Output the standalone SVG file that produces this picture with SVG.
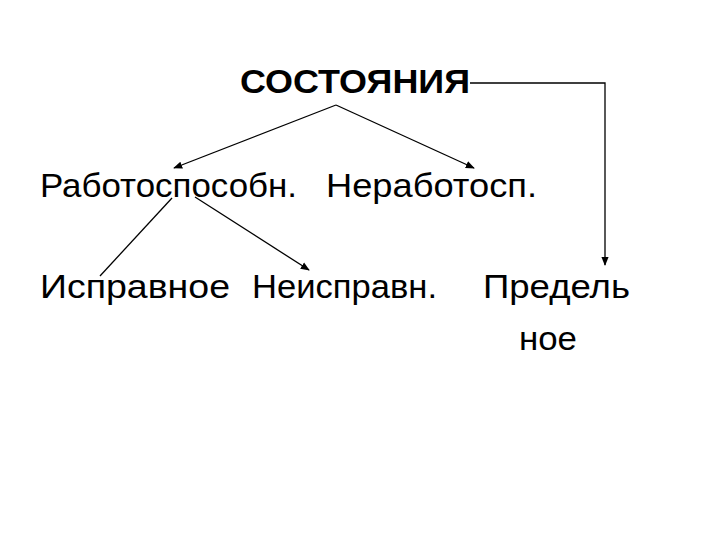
<svg xmlns="http://www.w3.org/2000/svg" width="720" height="540" viewBox="0 0 720 540">
<style>
text{font-family:"Liberation Sans",Arial,sans-serif;font-size:34px;fill:#000}
.c line,.c path{stroke:#000;stroke-width:1.3;fill:none;marker-end:url(#a)}
</style>
<defs><marker id="a" viewBox="0 0 10 10" refX="9" refY="5" markerWidth="7" markerHeight="7" orient="auto"><path d="M0,1L10,5L0,9z" fill="#000"/></marker></defs>
<rect width="720" height="540" fill="#fff"/>
<g id="n0"><text x="240" y="93" style="font-weight:bold;font-size:33px" textLength="230" lengthAdjust="spacingAndGlyphs">СОСТОЯНИЯ</text></g>
<g id="n1"><text x="40" y="197" textLength="257" lengthAdjust="spacingAndGlyphs">Работоспособн.</text></g>
<g id="n2"><text x="326" y="197" textLength="211" lengthAdjust="spacingAndGlyphs">Неработосп.</text></g>
<g id="n3"><text x="40" y="298" textLength="190" lengthAdjust="spacingAndGlyphs">Исправное</text></g>
<g id="n4"><text x="252" y="298" textLength="185" lengthAdjust="spacingAndGlyphs">Неисправн.</text></g>
<g id="n5"><text x="483" y="298" textLength="147" lengthAdjust="spacingAndGlyphs">Предель</text><text x="519" y="350" textLength="58" lengthAdjust="spacingAndGlyphs">ное</text></g>
<g class="c">
<line x1="336" y1="105" x2="174" y2="168"/>
<line x1="336" y1="105" x2="474" y2="168"/>
<line x1="172" y1="198" x2="100" y2="276" style="marker-end:none"/>
<line x1="195" y1="197" x2="309" y2="270"/>
<path d="M470,83H605V265"/>
</g>
</svg>
